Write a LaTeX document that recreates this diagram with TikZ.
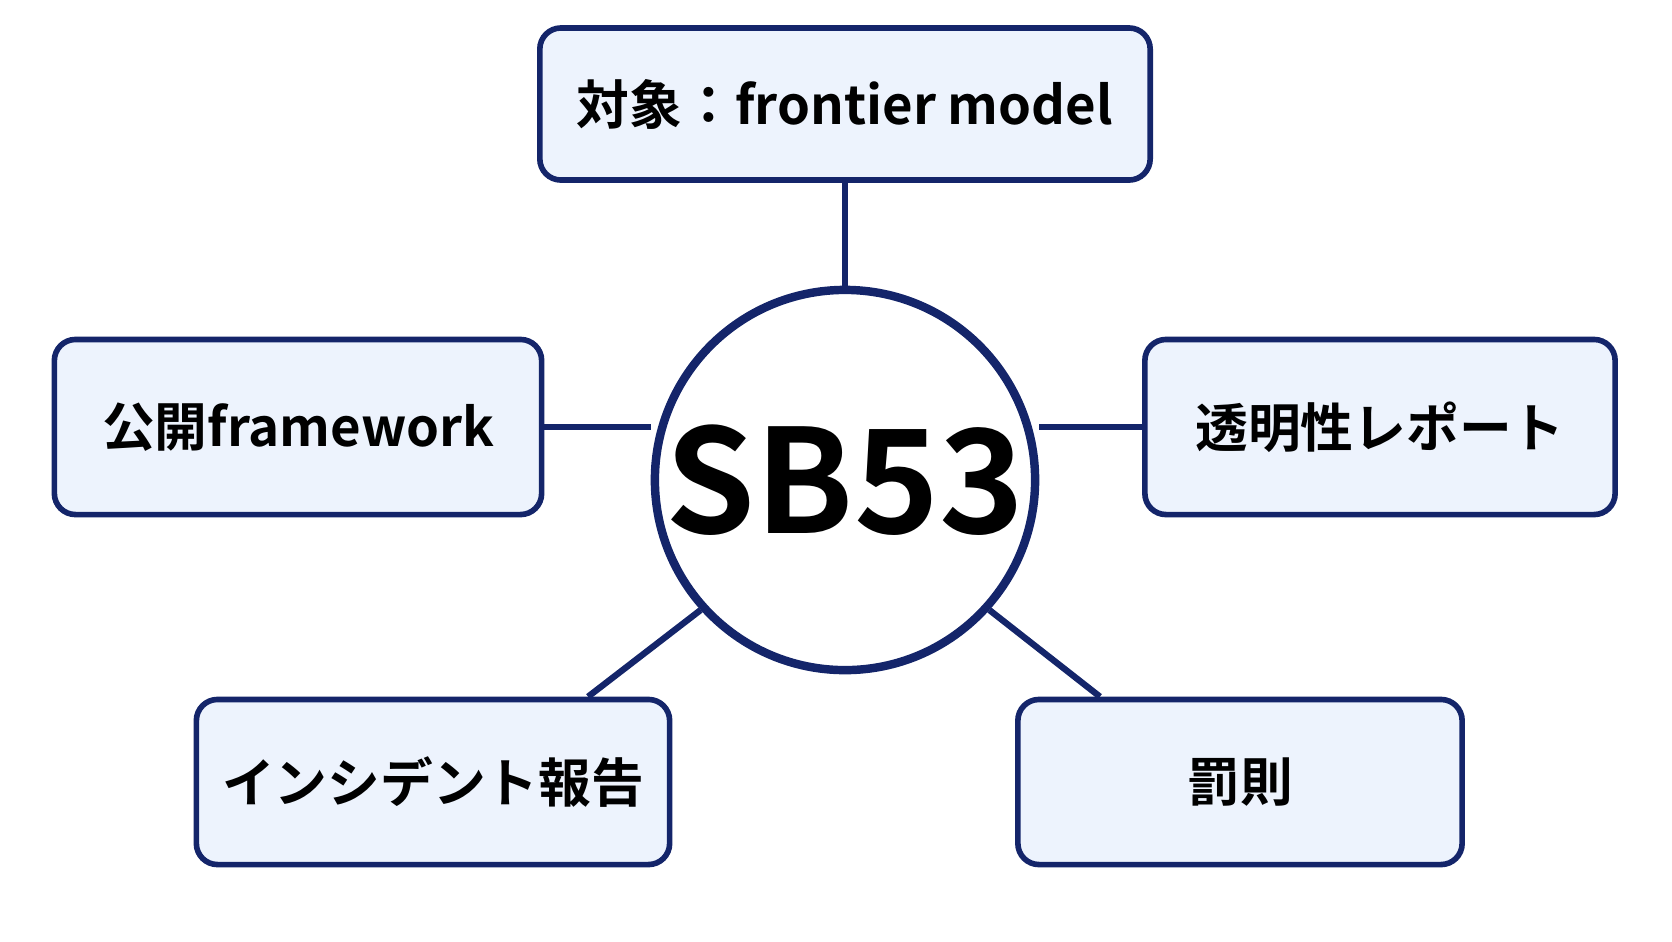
\documentclass[tikz,border=0pt]{standalone}
\usepackage{fontspec}
\setmainfont{Noto Sans CJK JP}[BoldFont={* Bold}]
\usetikzlibrary{positioning}
\definecolor{navy}{HTML}{14256A}
\definecolor{boxfill}{HTML}{EDF3FD}

\begin{document}
\begin{tikzpicture}[x=0.01cm,y=-0.01cm,
    topic/.style={draw=navy,line width=1.6pt,fill=boxfill,rounded corners=6pt,
        font=\fontsize{15pt}{18pt}\selectfont\bfseries,inner sep=0pt},
    link/.style={draw=navy,line width=1.8pt}]

    \useasboundingbox (0,0) rectangle (1672,941);

    \node[circle,draw=navy,line width=2.4pt,fill=white,minimum size=3.8cm,inner sep=0pt,
          font=\fontsize{41pt}{44pt}\selectfont\bfseries] (c) at (845,480) {SB53};

    \node[topic,minimum width=6.1cm,minimum height=1.52cm] (top) at (845,104) {対象：frontier model};
    \node[topic,minimum width=4.87cm,minimum height=1.75cm] (lb) at (298,427) {公開framework};
    \node[topic,minimum width=4.7cm,minimum height=1.75cm] (rb) at (1380,427) {透明性レポート};
    \node[topic,minimum width=4.73cm,minimum height=1.65cm] (bl) at (433,782) {インシデント報告};
    \node[topic,minimum width=4.44cm,minimum height=1.65cm] (br) at (1240,782) {罰則};

    % spokes
    \draw[link] (top.south) -- (c.north);
    \draw[link] (lb.east) -- (lb.east -| c.west);
    \draw[link] (rb.west) -- (rb.west -| c.east);
    \draw[link] ([xshift=1.55cm]bl.north) -- (c.222);
    \draw[link] ([xshift=-1.4cm]br.north) -- (c.318);

\end{tikzpicture}
\end{document}
